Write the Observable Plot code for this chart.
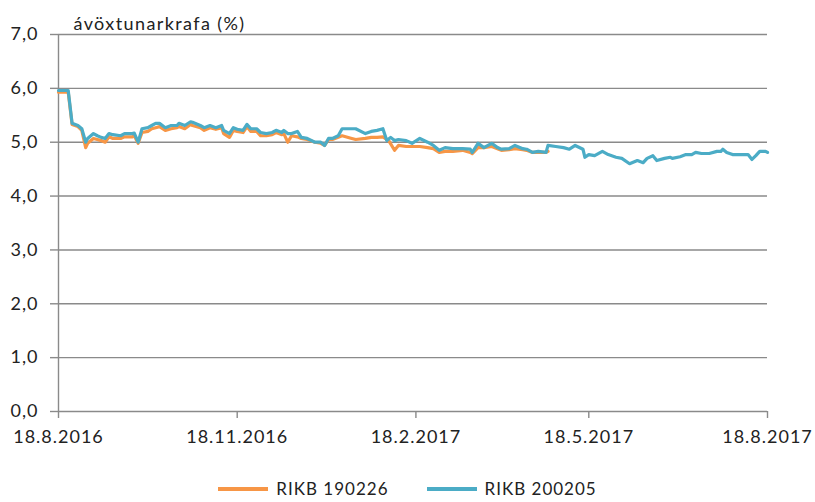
<!DOCTYPE html>
<html><head><meta charset="utf-8">
<script src="https://cdn.jsdelivr.net/npm/d3@7"></script>
<script src="https://cdn.jsdelivr.net/npm/@observablehq/plot@0.6"></script>
<style>
body{margin:0;background:#fff;font-family:Lato,"Open Sans",sans-serif;overflow:hidden;}
#chart svg{display:block;}
#legend{height:26px;line-height:20px;display:flex;justify-content:center;align-items:center;font-size:17px;letter-spacing:1px;color:#222;padding-top:6px;box-sizing:content-box;}
.item{display:flex;align-items:center;margin:0 19px;}
.sw{width:50px;height:4px;margin-right:8px;}
</style></head><body><div id="chart"></div><div id="legend"></div>
<script>
const seriesNames = ["RIKB 190226", "RIKB 200205"];
const seriesColors = ["#F79646", "#4BACC6"];

const orangeDates = ["2016-08-18","2016-08-23","2016-08-25","2016-08-28","2016-08-30","2016-09-01","2016-09-02","2016-09-05","2016-09-07","2016-09-09","2016-09-11","2016-09-13","2016-09-15","2016-09-19","2016-09-21","2016-09-25","2016-09-26","2016-09-28","2016-09-30","2016-10-03","2016-10-05","2016-10-07","2016-10-09","2016-10-12","2016-10-15","2016-10-18","2016-10-19","2016-10-22","2016-10-25","2016-10-26","2016-10-30","2016-11-01","2016-11-04","2016-11-07","2016-11-10","2016-11-11","2016-11-14","2016-11-16","2016-11-18","2016-11-21","2016-11-23","2016-11-25","2016-11-28","2016-11-30","2016-12-03","2016-12-06","2016-12-08","2016-12-11","2016-12-12","2016-12-14","2016-12-16","2016-12-19","2016-12-21","2016-12-24","2016-12-28","2016-12-31","2017-01-02","2017-01-04","2017-01-06","2017-01-09","2017-01-11","2017-01-16","2017-01-18","2017-01-23","2017-01-26","2017-01-29","2017-02-01","2017-02-04","2017-02-07","2017-02-09","2017-02-13","2017-02-16","2017-02-20","2017-02-24","2017-02-27","2017-03-02","2017-03-05","2017-03-09","2017-03-14","2017-03-18","2017-03-19","2017-03-22","2017-03-25","2017-03-29","2017-04-01","2017-04-03","2017-04-07","2017-04-10","2017-04-14","2017-04-16","2017-04-19","2017-04-22","2017-04-26","2017-04-27"];
const orangeValues = [5.93,5.93,5.33,5.29,5.22,4.9,4.98,5.07,5.05,5.03,5.0,5.1,5.07,5.07,5.1,5.1,5.12,4.98,5.18,5.2,5.25,5.27,5.29,5.22,5.25,5.27,5.29,5.25,5.33,5.31,5.27,5.22,5.27,5.24,5.27,5.16,5.09,5.22,5.2,5.18,5.29,5.2,5.2,5.12,5.12,5.14,5.18,5.14,5.16,5.0,5.12,5.1,5.07,5.05,5.0,4.98,4.94,5.05,5.05,5.09,5.12,5.07,5.05,5.07,5.09,5.09,5.1,5.03,4.85,4.94,4.92,4.92,4.92,4.9,4.88,4.81,4.83,4.83,4.85,4.81,4.79,4.9,4.9,4.92,4.88,4.85,4.86,4.88,4.86,4.85,4.81,4.81,4.81,4.83];

const blueDates = ["2016-08-18","2016-08-23","2016-08-25","2016-08-28","2016-08-30","2016-09-01","2016-09-02","2016-09-05","2016-09-07","2016-09-09","2016-09-11","2016-09-13","2016-09-15","2016-09-19","2016-09-21","2016-09-25","2016-09-26","2016-09-28","2016-09-30","2016-10-03","2016-10-05","2016-10-07","2016-10-09","2016-10-12","2016-10-15","2016-10-18","2016-10-19","2016-10-22","2016-10-25","2016-10-26","2016-10-30","2016-11-01","2016-11-04","2016-11-07","2016-11-10","2016-11-11","2016-11-14","2016-11-16","2016-11-18","2016-11-21","2016-11-23","2016-11-25","2016-11-28","2016-11-30","2016-12-03","2016-12-06","2016-12-08","2016-12-11","2016-12-12","2016-12-14","2016-12-16","2016-12-19","2016-12-21","2016-12-24","2016-12-28","2016-12-31","2017-01-02","2017-01-04","2017-01-06","2017-01-09","2017-01-11","2017-01-16","2017-01-18","2017-01-23","2017-01-26","2017-01-29","2017-02-01","2017-02-03","2017-02-05","2017-02-07","2017-02-09","2017-02-13","2017-02-16","2017-02-20","2017-02-24","2017-02-27","2017-03-02","2017-03-05","2017-03-09","2017-03-14","2017-03-18","2017-03-19","2017-03-22","2017-03-25","2017-03-29","2017-04-01","2017-04-03","2017-04-07","2017-04-10","2017-04-14","2017-04-16","2017-04-19","2017-04-22","2017-04-26","2017-04-27","2017-05-01","2017-05-05","2017-05-08","2017-05-11","2017-05-15","2017-05-16","2017-05-18","2017-05-21","2017-05-25","2017-05-28","2017-06-01","2017-06-04","2017-06-08","2017-06-12","2017-06-15","2017-06-17","2017-06-20","2017-06-22","2017-06-26","2017-06-29","2017-06-30","2017-07-04","2017-07-07","2017-07-10","2017-07-12","2017-07-15","2017-07-19","2017-07-23","2017-07-25","2017-07-26","2017-07-28","2017-07-31","2017-08-04","2017-08-08","2017-08-10","2017-08-12","2017-08-14","2017-08-17","2017-08-18"];
const blueValues = [5.96,5.96,5.35,5.31,5.25,5.0,5.07,5.16,5.12,5.09,5.07,5.16,5.14,5.12,5.16,5.16,5.17,5.0,5.25,5.27,5.31,5.35,5.35,5.27,5.31,5.31,5.35,5.31,5.38,5.37,5.31,5.27,5.31,5.27,5.31,5.22,5.16,5.27,5.24,5.22,5.33,5.25,5.25,5.18,5.16,5.18,5.22,5.18,5.22,5.16,5.16,5.2,5.09,5.07,5.0,5.0,4.94,5.07,5.07,5.12,5.25,5.25,5.25,5.16,5.2,5.22,5.25,5.03,5.09,5.03,5.05,5.03,4.98,5.07,5.0,4.94,4.85,4.9,4.88,4.88,4.87,4.81,4.98,4.9,4.98,4.9,4.87,4.88,4.94,4.88,4.87,4.81,4.83,4.81,4.94,4.92,4.9,4.87,4.94,4.87,4.72,4.77,4.75,4.83,4.77,4.72,4.7,4.6,4.66,4.62,4.7,4.75,4.66,4.7,4.72,4.7,4.73,4.77,4.77,4.81,4.79,4.79,4.83,4.83,4.87,4.81,4.77,4.77,4.77,4.68,4.75,4.83,4.83,4.81];

const xTickDates = ["2016-08-18","2016-11-18","2017-02-18","2017-05-18","2017-08-18"];
const yTicks = [0,1,2,3,4,5,6,7];
const yTitle = "ávöxtunarkrafa (%)";

const parse = d3.utcParse("%Y-%m-%d");
const rows = [];
orangeDates.forEach((d,i)=>rows.push({date:parse(d), value:orangeValues[i], series:seriesNames[0]}));
blueDates.forEach((d,i)=>rows.push({date:parse(d), value:blueValues[i], series:seriesNames[1]}));
const xt = xTickDates.map(parse);
const fmtX = d3.utcFormat("%-d.%-m.%Y");
const axisColor = "#8a8a8a";

const chart = Plot.plot({
  width: 815, height: 470,
  marginLeft: 58, marginRight: 48, marginTop: 34, marginBottom: 59,
  style: {fontFamily: "Lato, 'Open Sans', sans-serif", fontSize: "18px", letterSpacing: "1px", color: "#222", background: "#fff"},
  x: {type: "utc", domain: [xt[0], xt[xt.length-1]]},
  y: {domain: [0, 7]},
  color: {domain: seriesNames, range: seriesColors},
  marks: [
    Plot.gridY(yTicks, {stroke: axisColor, strokeOpacity: 1, strokeWidth: 1.4}),
    Plot.ruleX([xt[0]], {stroke: axisColor, strokeWidth: 1.4}),
    Plot.axisY(yTicks, {tickSize: 8, tickPadding: 12, stroke: axisColor, strokeWidth: 1.4, label: null,
      tickFormat: d => d.toFixed(1).replace(".", ","), fontSize: 18, fill: "#222"}),
    Plot.axisX(xt, {tickSize: 7, tickPadding: 12, stroke: axisColor, strokeWidth: 1.4, label: null,
      tickFormat: fmtX, fontSize: 18, fill: "#222"}),
    Plot.line(rows, {x: "date", y: "value", z: "series", stroke: "series", strokeWidth: 3.2, curve: "linear"}),
    Plot.text([yTitle], {frameAnchor: "top-left", dx: 15, dy: -17, fontSize: 18, fill: "#222", textAnchor: "start"})
  ]
});
chart.querySelectorAll("text").forEach(t => { if (t.textContent === yTitle) t.style.letterSpacing = "1.4px"; });
document.getElementById("chart").appendChild(chart);

const legend = document.getElementById("legend");
seriesNames.forEach((n,i)=>{
  const it = document.createElement("div"); it.className = "item";
  const sw = document.createElement("div"); sw.className = "sw"; sw.style.background = seriesColors[i];
  const t = document.createElement("span"); t.textContent = n;
  it.appendChild(sw); it.appendChild(t); legend.appendChild(it);
});
</script></body></html>
